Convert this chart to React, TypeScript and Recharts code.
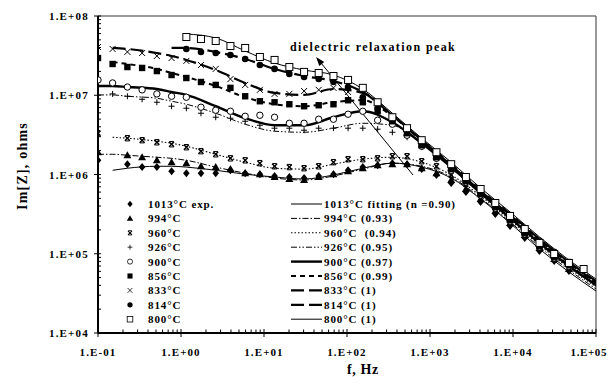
import React from 'react';
import { ComposedChart, Line, Scatter, XAxis, YAxis, ReferenceLine } from 'recharts';

// measured frequencies, Hz
const freqs = [0.1, 0.15, 0.226, 0.34, 0.512, 0.77, 1.16, 1.74, 2.62, 3.94, 5.93, 8.92, 13.4, 20.2, 30.4, 45.6, 68.7, 103, 155, 234, 352, 529, 795, 1196, 1800, 2707, 4071, 6124, 9213, 13860, 20840, 31350, 47160, 70930];

// experimental Im[Z] (ohms), one value per frequency
const exp1013 = [1.51e6, null, 1.35e6, 1.24e6, 1.24e6, 1.10e6, 1.04e6, 1.04e6, 1.04e6, 1.13e6, 1.04e6, 1.01e6, 9.57e5, 9.30e5, 9.03e5, 9.57e5, 1.01e6, 1.13e6, 1.24e6, 1.31e6, 1.39e6, 1.35e6, 1.17e6, 9.86e5, 7.81e5, 6.02e5, 4.50e5, 3.18e5, 2.24e5, 1.58e5, 1.08e5, 8.10e4, 6.06e4, null];
const exp994 = [1.91e6, null, 1.75e6, 1.65e6, 1.51e6, 1.43e6, 1.39e6, 1.27e6, 1.24e6, 1.17e6, 1.04e6, 1.01e6, 9.30e5, 8.78e5, 8.52e5, 9.30e5, 1.01e6, 1.10e6, 1.20e6, 1.31e6, 1.35e6, 1.35e6, 1.20e6, 1.04e6, 8.52e5, 6.56e5, 4.91e5, 3.46e5, 2.44e5, 1.73e5, 1.18e5, 8.59e4, 6.42e4, null];
const exp960 = [3.32e6, null, 2.87e6, 2.71e6, 2.55e6, 2.41e6, 2.21e6, 1.97e6, 1.80e6, 1.60e6, 1.51e6, 1.39e6, 1.27e6, 1.24e6, 1.20e6, 1.27e6, 1.43e6, 1.56e6, 1.56e6, 1.60e6, 1.70e6, 1.70e6, 1.47e6, 1.27e6, 9.86e5, 7.59e5, 5.68e5, 4.12e5, 2.91e5, 2.05e5, 1.45e5, 1.05e5, 7.87e4, null];
const exp926 = [null, 1.04e7, 9.71e6, 8.90e6, 8.16e6, 7.27e6, 6.86e6, 5.93e6, 5.28e6, 5.13e6, 4.70e6, 4.18e6, 3.84e6, 3.84e6, 3.62e6, 3.84e6, 3.84e6, 3.84e6, 3.84e6, 3.73e6, 3.41e6, 2.95e6, 2.21e6, 1.56e6, 1.10e6, 7.81e5, 5.36e5, 3.67e5, 2.52e5, 1.73e5, 1.18e5, 8.59e4, null, null];
const exp900 = [1.56e7, 1.43e7, 1.27e7, 1.17e7, 1.04e7, 9.71e6, 9.44e6, 7.06e6, 6.47e6, 6.28e6, 5.43e6, 5.59e6, 5.28e6, 4.43e6, 4.43e6, 4.98e6, 4.98e6, 5.76e6, 6.28e6, 4.84e6, 4.31e6, 3.13e6, 2.27e6, 1.60e6, 1.13e6, 8.04e5, 5.51e5, 3.78e5, 2.59e5, 1.78e5, 1.22e5, 8.84e4, 7.01e4, null];
const exp856 = [2.95e7, 2.48e7, 2.27e7, 2.21e7, 2.02e7, 1.80e7, 1.65e7, 1.47e7, 1.35e7, 1.24e7, 9.71e6, 8.40e6, 8.16e6, 7.70e6, 7.27e6, 7.48e6, 7.70e6, 8.65e6, 8.16e6, 6.28e6, 4.70e6, 3.32e6, 2.34e6, 1.65e6, 1.17e6, 8.28e5, 5.68e5, 3.89e5, 2.67e5, 1.83e5, 1.25e5, 9.10e4, null, null];
const exp833 = [4.06e7, 3.84e7, 3.52e7, 3.41e7, 3.13e7, 2.95e7, 2.71e7, 2.41e7, 2.15e7, 1.60e7, 1.35e7, 1.17e7, 1.04e7, 1.04e7, 1.13e7, 1.17e7, 1.24e7, 1.10e7, 8.65e6, 6.47e6, 4.70e6, 3.41e6, 2.41e6, 1.70e6, 1.20e6, 8.52e5, 5.84e5, 4.01e5, 2.75e5, 1.88e5, 1.29e5, 9.10e4, null, null];
const exp814 = [null, null, null, null, null, null, 3.84e7, 3.52e7, 3.41e7, 3.22e7, 2.87e7, 2.41e7, 2.15e7, 1.86e7, 1.70e7, 1.60e7, 1.47e7, 1.27e7, 9.44e6, 6.86e6, 4.84e6, 3.52e6, 2.48e6, 1.75e6, 1.24e6, 8.52e5, 6.02e5, 4.12e5, 2.75e5, 1.88e5, 1.29e5, 9.37e4, 7.21e4, null];
const exp800 = [null, null, null, null, null, null, 5.43e7, 5.13e7, 4.84e7, 4.18e7, 3.95e7, 3.04e7, 2.79e7, 2.27e7, 1.97e7, 1.91e7, 1.75e7, 1.56e7, 1.24e7, 8.16e6, 5.28e6, 3.84e6, 2.71e6, 1.91e6, 1.35e6, 9.30e5, 6.56e5, 4.37e5, 3.00e5, 2.05e5, 1.37e5, 9.93e4, 7.65e4, 6.42e4];

// fitted curves, sampled at these frequencies
const fitFreqs = [0.1, 0.15, 0.226, 0.512, 0.77, 1.16, 2.62, 5.93, 13.4, 30.4, 68.7, 155, 352, 795, 1800, 4071, 9213, 20840, 47160, 100000];
const fit1013 = [null, 1.13e6, 1.20e6, 1.27e6, 1.27e6, 1.24e6, 1.13e6, 1.01e6, 9.30e5, 8.78e5, 9.86e5, 1.20e6, 1.39e6, 1.24e6, 9.03e5, 4.91e5, 2.44e5, 1.15e5, 5.89e4, 3.39e4];
const fit994 = [1.80e6, 1.80e6, 1.75e6, 1.65e6, 1.60e6, 1.51e6, 1.24e6, 1.04e6, 9.03e5, 8.52e5, 9.57e5, 1.17e6, 1.39e6, 1.27e6, 9.30e5, 5.05e5, 2.52e5, 1.22e5, 6.24e4, 3.59e4];
const fit960 = [null, 2.95e6, 2.87e6, 2.63e6, 2.48e6, 2.27e6, 1.80e6, 1.43e6, 1.20e6, 1.17e6, 1.35e6, 1.56e6, 1.65e6, 1.43e6, 9.86e5, 5.36e5, 2.67e5, 1.29e5, 6.61e4, 3.81e4];
const fit926 = [1.01e7, 1.01e7, 9.71e6, 9.17e6, 8.40e6, 7.70e6, 5.93e6, 4.31e6, 3.52e6, 3.41e6, 3.84e6, 4.43e6, 4.18e6, 2.48e6, 1.20e6, 5.68e5, 2.75e5, 1.33e5, 6.81e4, 3.92e4];
const fit900 = [1.31e7, 1.31e7, 1.27e7, 1.20e7, 1.10e7, 1.01e7, 7.27e6, 5.13e6, 4.18e6, 4.18e6, 5.28e6, 6.28e6, 4.57e6, 2.48e6, 1.24e6, 5.84e5, 2.83e5, 1.37e5, 7.01e4, 4.04e4];
const fit856 = [null, 2.63e7, 2.48e7, 2.15e7, 1.91e7, 1.70e7, 1.31e7, 9.44e6, 7.70e6, 7.27e6, 8.16e6, 8.65e6, 5.43e6, 2.63e6, 1.27e6, 6.02e5, 3.00e5, 1.45e5, 7.21e4, 4.28e4];
const fit833 = [null, 3.95e7, 3.84e7, 3.41e7, 3.13e7, 2.79e7, 2.08e7, 1.43e7, 1.07e7, 1.01e7, 1.20e7, 1.07e7, 5.59e6, 2.71e6, 1.31e6, 6.19e5, 3.08e5, 1.49e5, 7.65e4, 4.40e4];
const fit814 = [null, null, null, null, 3.95e7, 3.95e7, 3.52e7, 2.87e7, 2.15e7, 1.75e7, 1.51e7, 1.10e7, 5.59e6, 2.71e6, 1.35e6, 6.38e5, 3.18e5, 1.54e5, 7.87e4, 4.53e4];
const fit800 = [null, null, null, null, null, 5.93e7, 5.28e7, 3.62e7, 2.55e7, 2.08e7, 1.80e7, 1.20e7, 5.93e6, 2.87e6, 1.43e6, 6.76e5, 3.37e5, 1.63e5, 8.34e4, 4.80e4];

const expLabels = ['1013°C exp.', '994°C', '960°C', '926°C', '900°C', '856°C', '833°C', '814°C', '800°C'];
const fitLabels = ['1013°C fitting (n =0.90)', '994°C (0.93)', '960°C  (0.94)', '926°C (0.95)', '900°C (0.97)', '856°C (0.99)', '833°C (1)', '814°C (1)', '800°C (1)'];

const xMajors = [0.1, 1, 10, 100, 1000, 10000, 100000];
const xLabels = ['1.E-01', '1.E+00', '1.E+01', '1.E+02', '1.E+03', '1.E+04', '1.E+05'];
const yMajors = [1e4, 1e5, 1e6, 1e7, 1e8];
const yLabels = ['1.E+04', '1.E+05', '1.E+06', '1.E+07', '1.E+08'];

// annotation arrow (Hz, ohms): tail -> head
const arrowTail = { x: 624, y: 9.86e5 };
const arrowHead = { x: 42.4, y: 3.04e7 };

// layout (kept inside the window so no scrollbars appear)
const W = 600;
const H = 369;
const PLOT_LEFT = 90;
const PLOT_BOTTOM = 325;
const FONT = '"Liberation Serif", "Times New Roman", serif';

const expKinds = ['diamond', 'triangle', 'xbar', 'plus', 'ocircle', 'fsquare', 'cross', 'fcircle', 'osquare'];
const fitStyles: { w: number; dash?: string }[] = [
  { w: 1 },
  { w: 1, dash: '6 2 1.5 2' },
  { w: 1.1, dash: '1.5 2' },
  { w: 1, dash: '6 2 1.5 2 1.5 2' },
  { w: 2.4 },
  { w: 2, dash: '5 4' },
  { w: 2.2, dash: '13 5' },
  { w: 2.2, dash: '13 5' },
  { w: 1 },
];

const expValues = [exp1013, exp994, exp960, exp926, exp900, exp856, exp833, exp814, exp800];
const fitValues = [fit1013, fit994, fit960, fit926, fit900, fit856, fit833, fit814, fit800];

const toPoints = (xs: number[], ys: (number | null)[]) =>
  xs.map((f, i) => ({ f, z: ys[i] })).filter((d) => d.z != null);

const withMinors = (majors: number[]) =>
  majors.flatMap((m, i) => (i === majors.length - 1 ? [m] : [1, 2, 3, 4, 5, 6, 7, 8, 9].map((k) => m * k)));

const majorIndex = (v: number, majors: number[]) => majors.findIndex((m) => Math.abs(v / m - 1) < 1e-6);

function Marker({ kind, cx, cy, s = 1 }: { kind: string; cx: number; cy: number; s?: number }) {
  let shape;
  switch (kind) {
    case 'diamond':
      shape = <polygon points={`${cx},${cy - 4} ${cx + 3.3},${cy} ${cx},${cy + 4} ${cx - 3.3},${cy}`} fill="#000" />;
      break;
    case 'triangle':
      shape = <polygon points={`${cx},${cy - 4} ${cx + 4},${cy + 3} ${cx - 4},${cy + 3}`} fill="#000" />;
      break;
    case 'xbar':
      shape = (
        <g stroke="#000" strokeWidth={1.4}>
          <line x1={cx - 2.5} y1={cy - 2.5} x2={cx + 2.5} y2={cy + 2.5} />
          <line x1={cx - 2.5} y1={cy + 2.5} x2={cx + 2.5} y2={cy - 2.5} />
          <line x1={cx - 2.2} y1={cy - 2.7} x2={cx + 2.2} y2={cy - 2.7} strokeWidth={1} />
          <line x1={cx - 2.2} y1={cy + 2.7} x2={cx + 2.2} y2={cy + 2.7} strokeWidth={1} />
        </g>
      );
      break;
    case 'plus':
      shape = (
        <g stroke="#000" strokeWidth={1}>
          <line x1={cx - 3} y1={cy} x2={cx + 3} y2={cy} />
          <line x1={cx} y1={cy - 3} x2={cx} y2={cy + 3} />
        </g>
      );
      break;
    case 'ocircle':
      shape = <circle cx={cx} cy={cy} r={3.2} fill="#fff" stroke="#000" strokeWidth={1} />;
      break;
    case 'fsquare':
      shape = <rect x={cx - 3.2} y={cy - 3.2} width={6.4} height={6.4} fill="#000" />;
      break;
    case 'cross':
      shape = (
        <g stroke="#000" strokeWidth={1}>
          <line x1={cx - 3} y1={cy - 3} x2={cx + 3} y2={cy + 3} />
          <line x1={cx - 3} y1={cy + 3} x2={cx + 3} y2={cy - 3} />
        </g>
      );
      break;
    case 'fcircle':
      shape = <circle cx={cx} cy={cy} r={3.3} fill="#000" />;
      break;
    default:
      shape = <rect x={cx - 3.5} y={cy - 3.5} width={7} height={7} fill="#fff" stroke="#000" strokeWidth={1} />;
  }
  if (s === 1) return shape;
  return <g transform={`translate(${cx},${cy}) scale(${s}) translate(${-cx},${-cy})`}>{shape}</g>;
}

const XTick = (props: any) => {
  const { x, payload } = props;
  const idx = majorIndex(payload.value, xMajors);
  if (idx < 0) return <line x1={x} x2={x} y1={PLOT_BOTTOM - 3.5} y2={PLOT_BOTTOM} stroke="#000" />;
  const last = idx === xMajors.length - 1;
  return (
    <g>
      <line x1={x} x2={x} y1={PLOT_BOTTOM - 4} y2={PLOT_BOTTOM + 4} stroke="#000" />
      <text
        x={last ? x + 11 : x}
        y={PLOT_BOTTOM + 23}
        textAnchor={last ? 'end' : 'middle'}
        fontFamily={FONT}
        fontWeight={700}
        fontSize={11}
        letterSpacing={last ? 0.6 : 1.1}
        fill="#000"
      >
        {xLabels[idx]}
      </text>
    </g>
  );
};

const YTick = (props: any) => {
  const { y, payload } = props;
  const idx = majorIndex(payload.value, yMajors);
  if (idx < 0) return <line x1={PLOT_LEFT} x2={PLOT_LEFT + 3} y1={y} y2={y} stroke="#000" />;
  return (
    <g>
      <line x1={PLOT_LEFT - 4} x2={PLOT_LEFT + 3} y1={y} y2={y} stroke="#000" />
      <text x={PLOT_LEFT - 9} y={y + 4} textAnchor="end" fontFamily={FONT} fontWeight={700} fontSize={11} letterSpacing={1.2} fill="#000">
        {yLabels[idx]}
      </text>
    </g>
  );
};

const ArrowShape = (props: any) => {
  const { x1, y1, x2, y2 } = props;
  const ang = Math.atan2(y2 - y1, x2 - x1);
  const L = 9;
  const hw = 3.2;
  const bx = x2 - L * Math.cos(ang);
  const by = y2 - L * Math.sin(ang);
  const px = -Math.sin(ang) * hw;
  const py = Math.cos(ang) * hw;
  return (
    <g>
      <line x1={x1} y1={y1} x2={bx} y2={by} stroke="#000" strokeWidth={1} />
      <polygon points={`${x2},${y2} ${bx + px},${by + py} ${bx - px},${by - py}`} fill="#000" />
    </g>
  );
};

const textStyle = { fontFamily: FONT, fontWeight: 700, fill: '#000' } as const;

export default function App() {
  const rowY = (i: number) => 196 + i * 14.4;
  return (
    <div style={{ position: 'relative', width: W, height: H }}>
      <style>{'.recharts-surface { overflow: visible !important; }'}</style>
      <ComposedChart width={W} height={H} margin={{ top: 8, right: 12, bottom: 14, left: 30 }}>
        <XAxis
          dataKey="f"
          type="number"
          scale="log"
          domain={[0.1, 100000]}
          allowDataOverflow
          ticks={withMinors(xMajors)}
          interval={0}
          tick={<XTick />}
          tickLine={false}
          axisLine={{ stroke: '#000', strokeWidth: 2 }}
          height={30}
        />
        <YAxis
          dataKey="z"
          type="number"
          scale="log"
          domain={[1e4, 1e8]}
          allowDataOverflow
          ticks={withMinors(yMajors)}
          interval={0}
          tick={<YTick />}
          tickLine={false}
          axisLine={{ stroke: '#000', strokeWidth: 2 }}
          width={60}
        />
        <ReferenceLine y={1e8} stroke="#7a7a7a" strokeWidth={1.5} />
        <ReferenceLine x={100000} stroke="#555" strokeWidth={1.2} />
        {fitValues.map((vals, i) => (
          <Line
            key={'fit' + i}
            data={toPoints(fitFreqs, vals)}
            dataKey="z"
            type="monotone"
            stroke="#000"
            strokeWidth={fitStyles[i].w}
            strokeDasharray={fitStyles[i].dash}
            dot={false}
            activeDot={false}
            isAnimationActive={false}
          />
        ))}
        {expValues.map((vals, i) => (
          <Scatter
            key={'exp' + i}
            data={toPoints(freqs, vals)}
            dataKey="z"
            isAnimationActive={false}
            shape={(p: any) => <Marker kind={expKinds[i]} cx={p.cx} cy={p.cy} />}
          />
        ))}
        <ReferenceLine segment={[arrowTail, arrowHead]} shape={<ArrowShape />} />
      </ComposedChart>
      <svg width={W} height={H} style={{ position: 'absolute', left: 0, top: 0, pointerEvents: 'none', overflow: 'visible' }}>
        <text x={19} y={158} transform="rotate(-90, 19, 158)" textAnchor="middle" fontSize={14} letterSpacing={1.2} {...textStyle}>
          Im[Z], ohms
        </text>
        <text x={355} y={366} textAnchor="middle" fontSize={14} letterSpacing={0.6} {...textStyle}>
          f, Hz
        </text>
        <text x={282} y={43} fontSize={12} letterSpacing={1.4} {...textStyle}>
          dielectric relaxation peak
        </text>
        {expLabels.map((lab, i) => (
          <g key={'le' + i}>
            <Marker kind={expKinds[i]} cx={122} cy={rowY(i)} s={0.8} />
            <text x={140} y={rowY(i) + 4} fontSize={11} letterSpacing={0.9} {...textStyle}>
              {lab}
            </text>
          </g>
        ))}
        {fitLabels.map((lab, i) => (
          <g key={'lf' + i}>
            <line
              x1={283}
              x2={314}
              y1={rowY(i)}
              y2={rowY(i)}
              stroke="#000"
              strokeWidth={fitStyles[i].w}
              strokeDasharray={fitStyles[i].dash}
            />
            <text x={316} y={rowY(i) + 4} fontSize={11} letterSpacing={0.9} style={{ whiteSpace: 'pre' }} {...textStyle}>
              {lab}
            </text>
          </g>
        ))}
      </svg>
    </div>
  );
}
